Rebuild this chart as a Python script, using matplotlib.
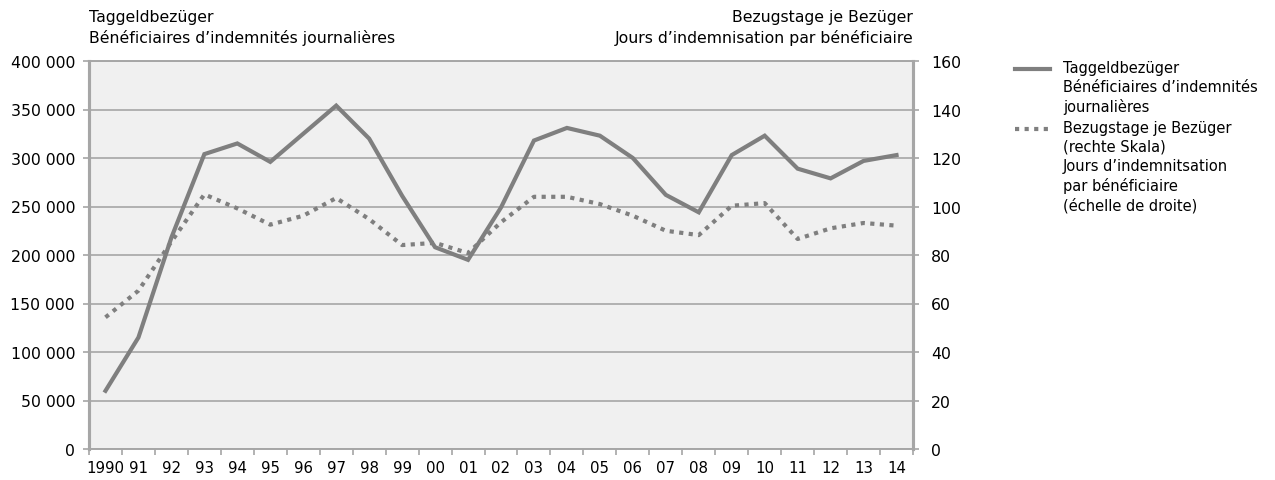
import matplotlib
matplotlib.use("Agg")
import matplotlib.pyplot as plt
from matplotlib.lines import Line2D
import numpy as np

years = list(range(1990, 2015))
tick_labels = ["1990"] + [f"{y % 100:02d}" for y in years[1:]]
beneficiaries = [60000, 115000, 218000, 304000, 315000, 296000, 325000, 354000, 320000,
                 261000, 208000, 195000, 249000, 318000, 331000, 323000, 300000, 262000,
                 244000, 303000, 323000, 289000, 279000, 297000, 303000]
days_per_benef = [54.3, 65.3, 85.5, 105.0, 99.2, 92.5, 96.2, 103.5, 94.8, 84.1, 85.0, 80.8,
                  93.5, 104.0, 104.0, 101.0, 96.2, 90.0, 88.2, 100.3, 101.4, 86.6, 91.0,
                  93.2, 92.1]

left_title = "Taggeldbezüger\nBénéficiaires d’indemnités journalières"
right_title = "Bezugstage je Bezüger\nJours d’indemnisation par bénéficiaire"
leg1 = "Taggeldbezüger\nBénéficiaires d’indemnités\njournalières"
leg2 = "Bezugstage je Bezüger\n(rechte Skala)\nJours d’indemnitsation\npar bénéficiaire\n(échelle de droite)"

plt.rcParams['font.family'] = ['DejaVu Sans']
FS = 11.3
LC = "#7f7f7f"
GC = "#a6a6a6"

fig = plt.figure(figsize=(12.75, 4.81), dpi=100)
ax = fig.add_axes([89/1275, 31/481, 824/1275, 388/481])
ax.set_facecolor("#f0f0f0")
x = np.arange(len(years))

ax.plot(x, beneficiaries, color=LC, lw=3.0, solid_joinstyle='miter', zorder=3)
ax.set_xlim(-0.5, len(years) - 0.5)
ax.set_ylim(0, 400000)
ax.set_yticks(np.arange(0, 400001, 50000))
ax.set_yticklabels([f"{v:,}".replace(",", " ") if v else "0" for v in range(0, 400001, 50000)],
                   fontsize=FS)
ax.yaxis.grid(True, color=GC, lw=1.2)
ax.set_axisbelow(True)
ax.set_xticks(x)
ax.set_xticklabels(tick_labels, fontsize=10.8)
ax.set_xticks(np.arange(-0.5, len(years) + 0.5, 1), minor=True)
ax.tick_params(axis='x', which='major', length=0, pad=8)
ax.tick_params(axis='x', which='minor', length=4, color=GC, width=1.2)
ax.tick_params(axis='y', length=4, color=GC, width=1.2, pad=6)

ax2 = ax.twinx()
ax2.plot(x, days_per_benef, color=LC, lw=3.0, linestyle=(0, (1.0, 1.3)), zorder=3)
ax2.set_ylim(0, 160)
ax2.set_yticks(np.arange(0, 161, 20))
ax2.set_yticklabels([str(v) for v in range(0, 161, 20)], fontsize=FS)
ax2.tick_params(axis='y', length=4, color=GC, width=1.2, pad=9)

for a in (ax, ax2):
    for s in a.spines.values():
        s.set_color(GC)
        s.set_linewidth(1.2)
    a.spines['left'].set_linewidth(2.2)
    a.spines['right'].set_linewidth(2.2)

fig.text(89/1275, 1 - 10/481, left_title, ha='left', va='top', fontsize=FS, linespacing=1.35)
fig.text(913/1275, 1 - 10/481, right_title, ha='right', va='top', fontsize=FS, linespacing=1.35)

# legend
lx0, lx1, tx = 1015/1275, 1050/1275, 1063/1275
fig.add_artist(Line2D([lx0, lx1], [1 - 70/481] * 2, color=LC, lw=3.0, transform=fig.transFigure))
fig.text(tx, 1 - 61/481, leg1, ha='left', va='top', fontsize=FS - 0.8, linespacing=1.32)
fig.add_artist(Line2D([lx0, lx1], [1 - 130/481] * 2, color=LC, lw=3.0, linestyle=(0, (1.0, 1.3)),
                      transform=fig.transFigure))
fig.text(tx, 1 - 121/481, leg2, ha='left', va='top', fontsize=FS - 0.8, linespacing=1.32)

fig.savefig("out.png", dpi=100)
